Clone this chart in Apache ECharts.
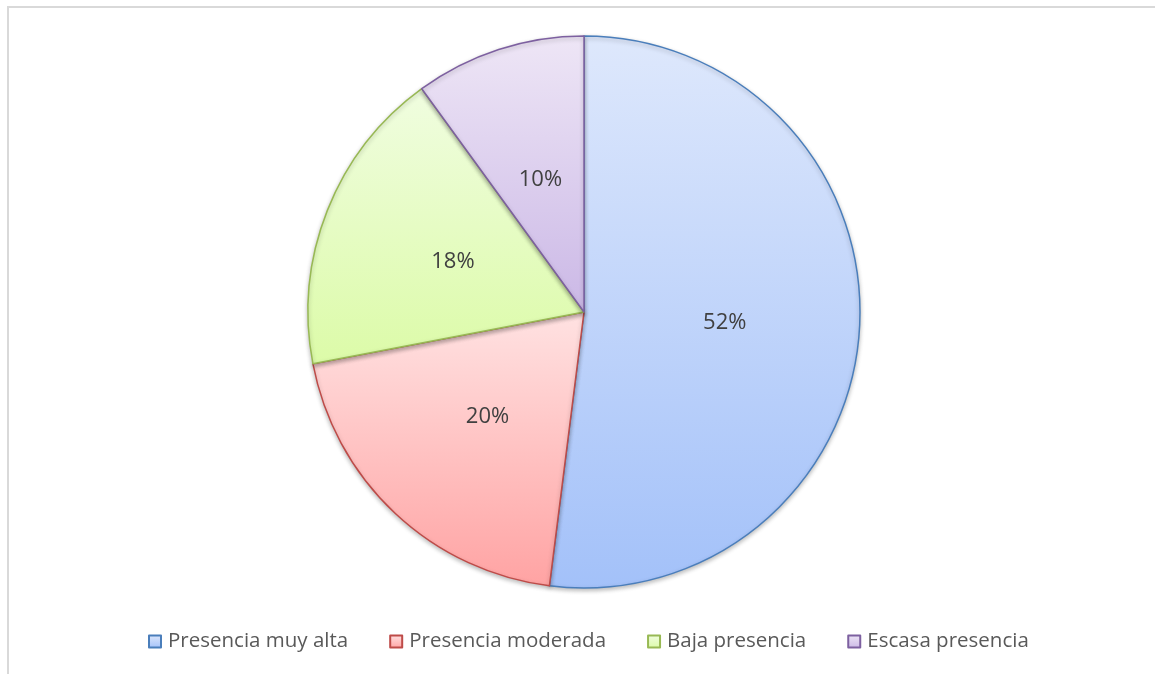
<!DOCTYPE html>
<html>
<head>
<meta charset="utf-8">
<script src="https://cdn.jsdelivr.net/npm/echarts@6/dist/echarts.min.js"></script>
<style>
  html, body { margin: 0; padding: 0; background: #fff; }
  #chart { width: 1155px; height: 674px; }
</style>
</head>
<body>
<div id="chart"></div>
<script>
// Categories and shares (percent)
const categories = ['Presencia muy alta', 'Presencia moderada', 'Baja presencia', 'Escasa presencia'];
const values = [52, 20, 18, 10];

// Per-slice styling: gradient top/bottom and outline
const fillTop = ['#dee8fc', '#ffe2e2', '#f0fde0', '#eee6f6'];
const fillBottom = ['#a3c1f9', '#ffa3a3', '#dcfba8', '#cbb8e6'];
const outline = ['#4a7ebb', '#be4b48', '#98b954', '#7d60a0'];

const FONT = '"Open Sans", "Noto Sans", sans-serif';

const chart = echarts.init(document.getElementById('chart'), null, { renderer: 'canvas' });

const data = categories.map((name, i) => ({
  name: name,
  value: values[i],
  itemStyle: {
    color: new echarts.graphic.LinearGradient(0, 0, 0, 1, [
      { offset: 0, color: fillTop[i] },
      { offset: 1, color: fillBottom[i] }
    ]),
    borderColor: outline[i],
    borderWidth: 1.5
  }
}));

chart.setOption({
  animation: false,
  backgroundColor: '#ffffff',
  graphic: [{
    type: 'rect',
    shape: { x: 8, y: 7, width: 1200, height: 700 },
    style: { fill: 'none', stroke: '#d9d9d9', lineWidth: 2 },
    silent: true
  }],
  legend: {
    bottom: 17,
    left: 143,
    itemWidth: 12,
    itemHeight: 12,
    itemGap: 41,
    icon: 'rect',
    textStyle: { fontFamily: FONT, fontSize: 20.5, color: '#595959', padding: [0, 0, 0, 2] },
    data: categories
  },
  series: [{
    type: 'pie',
    center: [584, 312],
    radius: [0, 276],
    startAngle: 90,
    clockwise: true,
    avoidLabelOverlap: false,
    label: {
      show: true,
      position: 'inside',
      formatter: p => p.value + '%',
      fontFamily: FONT,
      fontSize: 22,
      color: '#404040',
      offset: [0, 2]
    },
    labelLine: { show: false },
    emphasis: { disabled: true },
    itemStyle: {
      shadowBlur: 4,
      shadowOffsetY: 2,
      shadowColor: 'rgba(0,0,0,0.25)'
    },
    data: data
  }]
});
</script>
</body>
</html>
